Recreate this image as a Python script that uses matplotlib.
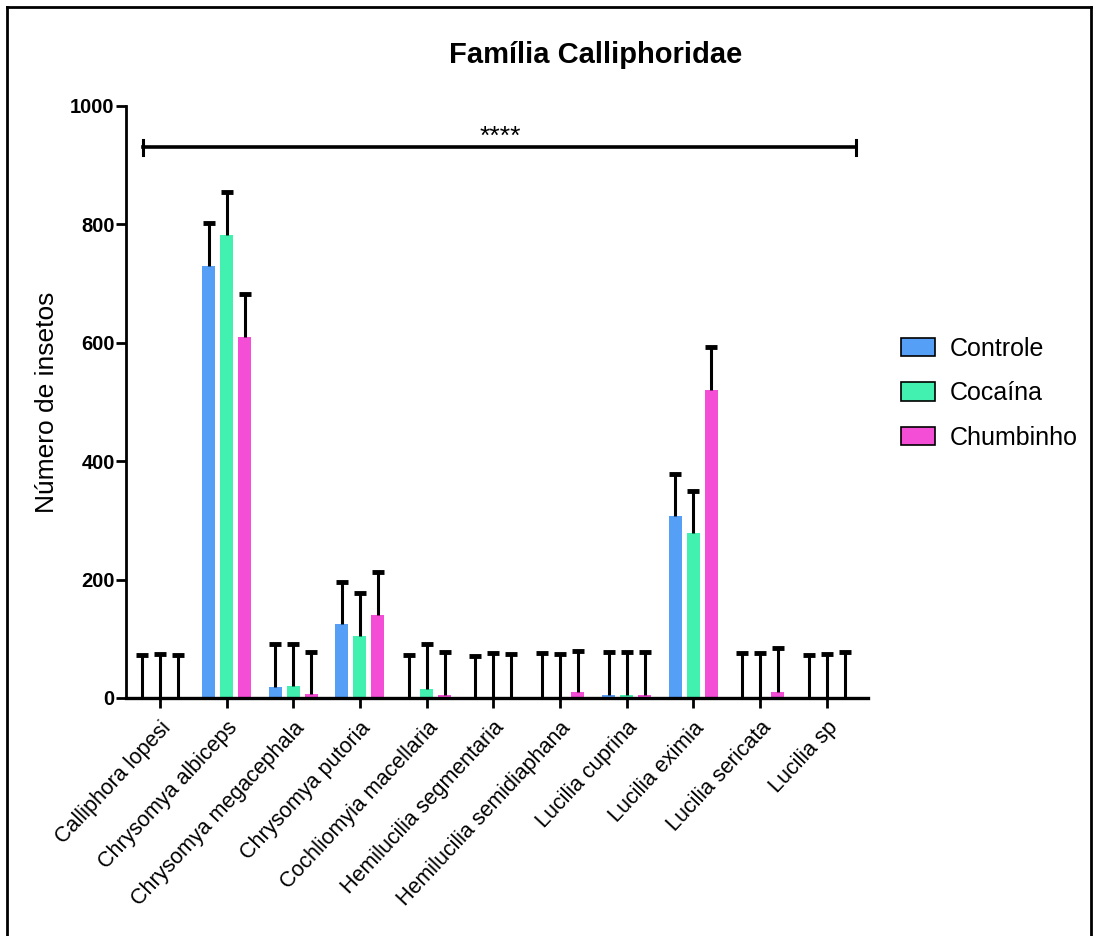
import numpy as np
import matplotlib.pyplot as plt
from matplotlib.lines import Line2D
from matplotlib.patches import Patch

plt.rcParams['font.family'] = ['Liberation Sans', 'DejaVu Sans']

especies = ["Calliphora lopesi", "Chrysomya albiceps", "Chrysomya megacephala",
            "Chrysomya putoria", "Cochliomyia macellaria", "Hemilucilia segmentaria",
            "Hemilucilia semidiaphana", "Lucilia cuprina", "Lucilia eximia",
            "Lucilia sericata", "Lucilia sp"]
grupos = ["Controle", "Cocaína", "Chumbinho"]

# mean number of insects per treatment
controle = [0, 729, 19, 125, 0, 0, 1.5, 5, 307, 1.5, 0]
cocaina = [0, 782, 20, 105, 16, 1, 0, 5, 279, 1.5, 0]
chumbinho = [0, 610, 7, 140, 4.5, 0, 10, 5.5, 520, 10, 1.5]

# upper error (SD)
err_controle = [72.6, 73, 72, 71.5, 72.6, 71.5, 74, 73, 72, 75, 72.6]
err_cocaina = [74, 73, 72, 72, 75, 75.5, 74, 73, 71, 75, 74]
err_chumbinho = [72.6, 72, 71, 72, 72.5, 74, 70, 72.5, 73, 75, 75.5]

cores = ["#569ff7", "#42f0b0", "#f54ed6"]

fig = plt.figure(figsize=(10.94, 9.36), dpi=100)
ax = fig.add_axes([0.1156, 0.2543, 0.6778, 0.6325])

x = np.arange(len(especies))
largura = 0.195
passo = 0.27
series = [controle, cocaina, chumbinho]
erros = [err_controle, err_cocaina, err_chumbinho]

for i, (vals, errs, cor, nome) in enumerate(zip(series, erros, cores, grupos)):
    pos = x + (i - 1) * passo
    ax.bar(pos, vals, width=largura, color=cor, label=nome, zorder=2)
    eb = ax.errorbar(pos, vals, yerr=[np.zeros(len(vals)), errs], fmt='none',
                     ecolor='black', elinewidth=2.2, capsize=4, capthick=3.5, zorder=3)
    # only the upper cap is shown
    eb[1][0].set_visible(False)

ax.set_ylim(0, 1000)
ax.set_xlim(-0.503, 10.62)
ax.set_yticks([0, 200, 400, 600, 800, 1000])
ax.set_xticks(x)
ax.set_xticklabels(especies, rotation=47, ha='right', rotation_mode='anchor', fontsize=15.5)
for lbl in ax.get_yticklabels():
    lbl.set_fontweight('bold')
    lbl.set_fontsize(14.5)

ax.spines['top'].set_visible(False)
ax.spines['right'].set_visible(False)
ax.spines['left'].set_linewidth(2)
ax.spines['bottom'].set_linewidth(2.4)
ax.tick_params(axis='y', direction='out', length=7, width=2, pad=1.5)
ax.tick_params(axis='x', direction='out', length=7, width=2, pad=7)

ax.set_ylabel("Número de insetos", fontsize=19, labelpad=8)
fig.text(0.544, 0.941, "Família Calliphoridae", fontsize=21, fontweight='bold',
         ha='center', va='center')

# significance bracket across all species
ax.plot([-0.255, 10.44], [930, 930], color='black', lw=2.6, clip_on=False)
for xe in (-0.255, 10.44):
    ax.plot([xe, xe], [918, 942], color='black', lw=2.2, clip_on=False)
ax.text(5.1, 928, "****", fontsize=19, ha='center', va='bottom')

handles = [Patch(facecolor=c, edgecolor='black', linewidth=1.2) for c in cores]
fig.legend(handles, grupos, loc='center left', bbox_to_anchor=(0.8236, 0.580),
           frameon=False, fontsize=18, handlelength=1.35, handleheight=0.75,
           handletextpad=0.6, labelspacing=0.82, borderpad=0, borderaxespad=0)

# outer frame
frame = dict(color='black', lw=2, transform=fig.transFigure)
fig.add_artist(Line2D([0.0065, 0.0065], [0, 0.9925], **frame))
fig.add_artist(Line2D([0.0065, 0.9975], [0.9925, 0.9925], **frame))
fig.add_artist(Line2D([0.9975, 0.9975], [0, 0.9925], **frame))

fig.savefig("out.png", dpi=100)
